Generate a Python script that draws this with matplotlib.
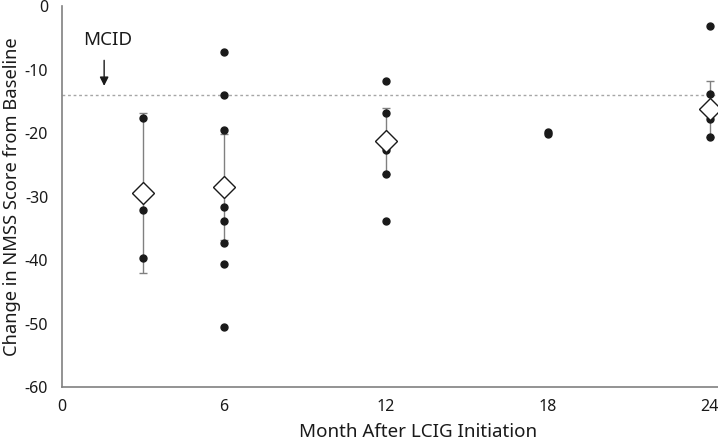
import matplotlib

matplotlib.use("Agg")
import matplotlib.pyplot as plt

# individual patient changes by month
MONTHS_PTS = [3, 3, 3,
              6, 6, 6, 6, 6, 6, 6, 6,
              12, 12, 12, 12, 12,
              18, 18,
              24, 24, 24, 24]
CHANGES = [-17.6, -32.1, -39.6,
           -7.2, -14.0, -19.5, -31.7, -33.9, -37.3, -40.7, -50.6,
           -11.8, -16.9, -22.6, -26.4, -33.9,
           -19.8, -20.2,
           -3.1, -13.9, -17.7, -20.6]

# group means with error bars
MEAN_MONTHS = [3, 6, 12, 24]
MEANS = [-29.5, -28.5, -21.2, -16.2]
ERRORS = [12.6, 8.3, 5.2, 4.4]

MCID = -14.0

plt.rcParams["font.family"] = ["Noto Sans", "DejaVu Sans"]
plt.rcParams["axes.unicode_minus"] = False

fig = plt.figure(figsize=(7.18, 4.4), dpi=100)
ax = fig.add_axes([0.0864, 0.1205, 0.9136, 0.8655])

ax.axhline(MCID, color="#a6a6a6", linestyle=(0, (2, 2)), linewidth=1, zorder=1)

ax.errorbar(MEAN_MONTHS, MEANS, yerr=ERRORS, fmt="none", ecolor="#808080",
            elinewidth=1, capsize=3, capthick=1, zorder=2)
ax.plot(MONTHS_PTS, CHANGES, "o", color="#1a1a1a", markersize=5, zorder=3)
ax.plot(MEAN_MONTHS, MEANS, "D", markerfacecolor="white", markeredgecolor="#1a1a1a",
        markeredgewidth=1, markersize=11, linestyle="none", zorder=4)

ax.annotate("", xy=(1.56, -13.0), xytext=(1.56, -8.1),
            arrowprops=dict(arrowstyle="-|>", color="#1a1a1a", lw=1, mutation_scale=13))
ax.text(0.78, -5.4, "MCID", fontsize=13.5, va="center", ha="left", color="#1a1a1a")

ax.set_xlim(0, 24.3)
ax.set_ylim(-60, 0)
ax.set_xticks([0, 6, 12, 18, 24])
ax.set_yticks([0, -10, -20, -30, -40, -50, -60])
ax.tick_params(length=0, labelsize=11.5, colors="#1a1a1a")
ax.tick_params(axis="x", pad=9)
ax.tick_params(axis="y", pad=10)
for side in ("top", "right"):
    ax.spines[side].set_visible(False)
for side in ("left", "bottom"):
    ax.spines[side].set_color("#808080")
    ax.spines[side].set_linewidth(1.2)

ax.set_xlabel("Month After LCIG Initiation", fontsize=13.5, color="#1a1a1a")
ax.xaxis.set_label_coords(0.543, -0.095)
ax.set_ylabel("Change in NMSS Score from Baseline", fontsize=13.2, color="#1a1a1a")
ax.yaxis.set_label_coords(-0.062, 0.5)

fig.savefig("out.png", dpi=100)
